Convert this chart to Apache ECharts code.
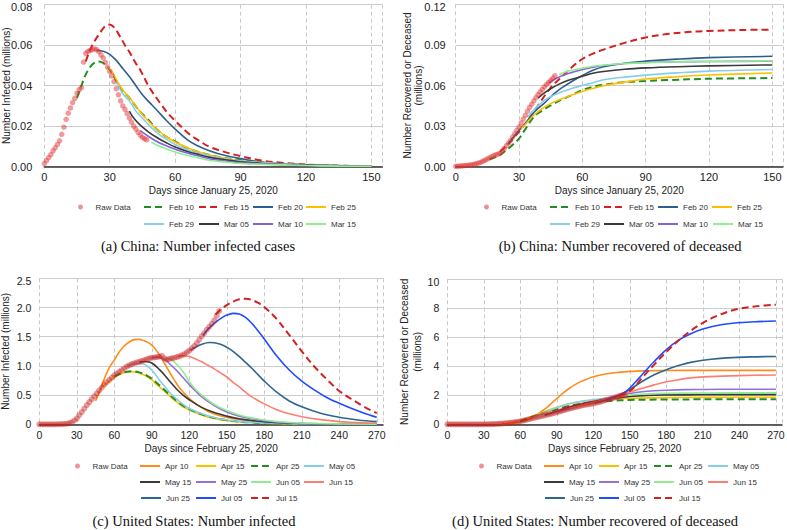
<!DOCTYPE html>
<html><head><meta charset="utf-8">
<script src="https://cdn.jsdelivr.net/npm/echarts@6/dist/echarts.min.js"></script>
<style>html,body{margin:0;padding:0;background:#fff}#c{width:787px;height:530px}</style>
</head><body><div id="c"></div>
<script>
// ---------- (a) China: number infected (millions), raw data daily from day 0 ----------
const cnInfRaw = [0.0015,0.003,0.0045,0.006,0.0078,0.0093,0.011,0.0128,0.016,0.0195,0.0234,0.0264,0.029,0.0317,0.0338,0.0363,0.038,0.039,0.0517,0.056,0.0569,0.0574,0.0578,0.0582,0.0578,0.0568,0.0552,0.0537,0.0515,0.0492,0.047,0.0448,0.042,0.0385,0.0355,0.0325,0.030,0.0283,0.0262,0.024,0.022,0.020,0.0186,0.017,0.0156,0.0145,0.0138,0.0133];
const cnInfFeb10 = [[15,0.034],[17,0.040],[19,0.0455],[21,0.0492],[23,0.0514],[25,0.052],[27,0.0512],[30,0.048],[33,0.0425],[36,0.0375],[39,0.034],[42,0.0298],[45,0.026],[48,0.0228],[52,0.018],[56,0.0148],[60,0.0125],[65,0.0095],[70,0.0075],[80,0.0048],[90,0.0032],[100,0.0021],[110,0.0014],[120,0.0009],[135,0.0005],[150,0.0003]];
const cnInfFeb15 = [[19,0.052],[22,0.060],[26,0.0668],[28,0.0695],[30,0.0702],[32,0.0688],[34,0.0656],[37,0.060],[39,0.0567],[42,0.051],[44,0.0478],[48,0.0395],[53,0.0316],[57,0.026],[60,0.0227],[66,0.0165],[70,0.0135],[76,0.0097],[83,0.0072],[90,0.0052],[100,0.003],[110,0.0018],[120,0.0011],[135,0.0005],[150,0.0002]];
const cnInfFeb20 = [[24,0.0575],[27,0.057],[30,0.0555],[33,0.0525],[36,0.0485],[39,0.0445],[42,0.040],[45,0.0355],[48,0.032],[52,0.0275],[56,0.0228],[60,0.0186],[66,0.013],[70,0.0105],[76,0.0078],[83,0.0055],[90,0.004],[100,0.0022],[110,0.0014],[120,0.0009],[135,0.0004],[150,0.0002]];
const cnInfFeb25 = [[29,0.0495],[31,0.047],[34,0.0412],[37,0.0365],[40,0.0328],[44,0.027],[48,0.0222],[52,0.018],[56,0.0148],[60,0.0122],[66,0.0092],[70,0.0075],[76,0.0057],[83,0.0042],[90,0.0029],[100,0.002],[110,0.0013],[120,0.0009],[135,0.0005],[150,0.0003]];
const cnInfFeb29 = [[33,0.042],[36,0.036],[39,0.0325],[42,0.0275],[45,0.024],[48,0.0205],[52,0.0165],[56,0.0135],[60,0.011],[66,0.0082],[70,0.0068],[76,0.0052],[83,0.0038],[90,0.0028],[100,0.0019],[110,0.0013],[120,0.0009],[135,0.0005],[150,0.0003]];
const cnInfMar05 = [[39,0.0275],[41,0.024],[44,0.0205],[48,0.017],[52,0.0142],[56,0.0118],[60,0.0097],[66,0.0074],[70,0.0062],[76,0.0046],[83,0.0034],[90,0.0024],[100,0.0016],[110,0.0011],[120,0.0008],[135,0.0004],[150,0.0002]];
const cnInfMar10 = [[44,0.0178],[48,0.0148],[52,0.0122],[56,0.0103],[60,0.0086],[66,0.0066],[70,0.0055],[76,0.0038],[83,0.0028],[90,0.002],[100,0.0014],[110,0.001],[120,0.0007],[135,0.0004],[150,0.0002]];
const cnInfMar15 = [[49,0.0122],[52,0.0105],[56,0.0088],[60,0.0073],[66,0.0055],[70,0.0045],[76,0.0031],[83,0.0023],[90,0.0016],[100,0.0012],[110,0.0009],[120,0.0006],[135,0.0003],[150,0.0002]];

// ---------- (b) China: number recovered or deceased (millions) ----------
const cnRecRaw = [0.0003,0.0004,0.0005,0.0006,0.0008,0.0009,0.0011,0.0013,0.0016,0.0019,0.0023,0.0028,0.0034,0.0041,0.0049,0.0057,0.0065,0.0073,0.0081,0.0089,0.0093,0.0098,0.0115,0.0135,0.0155,0.0175,0.0195,0.022,0.0245,0.027,0.0294,0.0323,0.0352,0.038,0.041,0.0438,0.0462,0.0487,0.051,0.0533,0.0552,0.0571,0.059,0.0607,0.0623,0.0638,0.0655,0.0672];
const cnRecFeb10 = [[16,0.0055],[20,0.0078],[23,0.011],[26,0.0148],[30,0.0208],[33,0.0278],[37,0.0368],[41,0.0415],[45,0.0453],[50,0.0495],[55,0.053],[60,0.0565],[65,0.059],[70,0.0605],[80,0.0625],[90,0.0634],[100,0.064],[120,0.065],[150,0.0655]];
const cnRecFeb15 = [[21,0.011],[25,0.017],[30,0.026],[35,0.036],[40,0.0475],[45,0.0585],[50,0.066],[55,0.0735],[60,0.0796],[65,0.0835],[70,0.0865],[80,0.0915],[90,0.0955],[100,0.098],[110,0.0995],[120,0.1003],[135,0.101],[150,0.1013]];
const cnRecFeb20 = [[25,0.017],[29,0.025],[33,0.032],[37,0.040],[42,0.047],[46,0.053],[50,0.058],[55,0.063],[60,0.0674],[65,0.0712],[70,0.0738],[80,0.0765],[90,0.078],[105,0.0795],[120,0.0806],[150,0.0816]];
const cnRecFeb25 = [[31,0.028],[34,0.033],[37,0.038],[41,0.043],[45,0.0466],[50,0.050],[55,0.053],[60,0.0556],[65,0.0578],[70,0.0598],[80,0.0625],[90,0.0648],[105,0.0665],[120,0.0678],[150,0.0692]];
const cnRecFeb29 = [[34,0.0367],[38,0.0435],[42,0.049],[46,0.0525],[50,0.0552],[55,0.0578],[60,0.060],[65,0.062],[70,0.0642],[80,0.0662],[90,0.0677],[105,0.0693],[120,0.0706],[150,0.0718]];
const cnRecMar05 = [[39,0.0507],[42,0.0545],[45,0.0576],[49,0.061],[53,0.0637],[60,0.0668],[65,0.069],[70,0.0703],[80,0.072],[90,0.073],[105,0.0739],[120,0.0745],[150,0.0752]];
const cnRecMar10 = [[44,0.0617],[48,0.0655],[53,0.0686],[60,0.0718],[65,0.0735],[70,0.0748],[80,0.0762],[90,0.077],[105,0.0775],[120,0.0777],[150,0.078]];
const cnRecMar15 = [[49,0.068],[53,0.0705],[60,0.0728],[65,0.0742],[70,0.075],[80,0.0762],[90,0.0768],[105,0.0775],[120,0.0778],[150,0.0782]];

// ---------- (c) United States: number infected (millions), raw every 2 days from day 0 ----------
const usInfRaw = [0,0,0,0,0,0,0,0.001,0.002,0.003,0.005,0.01,0.02,0.035,0.065,0.10,0.155,0.21,0.27,0.33,0.38,0.43,0.48,0.53,0.58,0.63,0.68,0.72,0.76,0.80,0.84,0.87,0.90,0.93,0.96,0.99,1.01,1.03,1.045,1.06,1.07,1.085,1.10,1.115,1.13,1.14,1.145,1.15,1.16,1.17,1.13,1.11,1.12,1.13,1.14,1.15,1.165,1.18,1.20,1.23,1.26,1.30,1.34,1.39,1.45,1.51,1.56,1.62,1.67,1.72,1.78,1.86,1.94];
const usInfApr10 = [[45,0.40],[48,0.55],[52,0.78],[56,0.97],[60,1.10],[64,1.24],[68,1.34],[72,1.41],[76,1.45],[80,1.455],[84,1.43],[88,1.39],[92,1.31],[96,1.19],[100,1.05],[104,0.90],[108,0.76],[112,0.63],[116,0.53],[120,0.44],[128,0.31],[136,0.21],[144,0.15],[150,0.12],[160,0.08],[170,0.055],[180,0.04],[195,0.022],[210,0.012],[240,0.004],[270,0.001]];
const usInfApr15 = [[50,0.63],[55,0.72],[60,0.80],[65,0.86],[70,0.895],[74,0.90],[78,0.89],[82,0.86],[86,0.82],[90,0.76],[95,0.66],[100,0.57],[105,0.47],[110,0.38],[115,0.30],[120,0.245],[130,0.16],[140,0.10],[150,0.062],[160,0.04],[170,0.028],[180,0.018],[210,0.006],[240,0.002],[270,0.001]];
const usInfApr25 = [[60,0.82],[65,0.87],[70,0.90],[74,0.91],[78,0.90],[82,0.875],[86,0.835],[90,0.78],[95,0.69],[100,0.59],[105,0.49],[110,0.40],[115,0.32],[120,0.26],[130,0.17],[140,0.11],[150,0.07],[160,0.045],[170,0.03],[180,0.02],[210,0.007],[240,0.002],[270,0.001]];
const usInfMay05 = [[70,0.99],[75,1.03],[80,1.04],[84,1.03],[88,0.97],[92,0.88],[96,0.76],[100,0.66],[105,0.53],[110,0.43],[115,0.34],[120,0.27],[130,0.18],[140,0.115],[150,0.075],[160,0.05],[170,0.033],[180,0.022],[210,0.007],[240,0.002],[270,0.001]];
const usInfMay15 = [[80,1.06],[84,1.075],[88,1.065],[92,1.02],[96,0.94],[100,0.85],[105,0.72],[110,0.60],[115,0.50],[120,0.42],[130,0.29],[140,0.20],[150,0.14],[160,0.095],[170,0.065],[180,0.045],[195,0.025],[210,0.014],[240,0.004],[270,0.001]];
const usInfMay25 = [[90,1.14],[94,1.15],[98,1.13],[102,1.08],[106,1.00],[110,0.92],[115,0.80],[120,0.68],[125,0.57],[130,0.47],[140,0.32],[150,0.21],[160,0.14],[170,0.095],[180,0.06],[195,0.03],[210,0.016],[240,0.005],[270,0.001]];
const usInfJun05 = [[101,1.12],[104,1.12],[108,1.07],[112,0.98],[116,0.87],[120,0.73],[125,0.60],[130,0.50],[140,0.34],[150,0.235],[160,0.16],[170,0.11],[180,0.075],[195,0.04],[210,0.022],[240,0.007],[270,0.002]];
const usInfJun15 = [[111,1.17],[115,1.175],[120,1.16],[125,1.12],[130,1.07],[135,1.01],[140,0.95],[145,0.88],[150,0.81],[155,0.72],[160,0.64],[165,0.55],[170,0.47],[180,0.35],[190,0.25],[200,0.18],[210,0.13],[225,0.08],[240,0.046],[255,0.028],[270,0.017]];
const usInfJun25 = [[121,1.27],[125,1.32],[130,1.37],[136,1.40],[140,1.395],[145,1.37],[150,1.32],[155,1.25],[160,1.16],[165,1.06],[170,0.96],[175,0.85],[180,0.74],[190,0.55],[200,0.40],[210,0.30],[225,0.19],[240,0.12],[255,0.075],[270,0.045]];
const usInfJul05 = [[131,1.52],[135,1.63],[140,1.73],[145,1.81],[150,1.87],[155,1.90],[160,1.89],[165,1.83],[170,1.73],[175,1.60],[180,1.46],[190,1.17],[200,0.93],[210,0.74],[220,0.59],[230,0.46],[240,0.36],[250,0.27],[260,0.19],[270,0.12]];
const usInfJul15 = [[141,1.88],[145,1.96],[150,2.04],[155,2.10],[160,2.14],[165,2.15],[170,2.13],[175,2.08],[180,2.01],[190,1.80],[200,1.53],[210,1.25],[220,0.99],[230,0.77],[240,0.57],[250,0.43],[260,0.30],[270,0.19]];

// ---------- (d) United States: number recovered or deceased (millions), raw every 2 days ----------
const usRecRaw = [0,0,0,0,0,0,0,0,0,0,0,0,0,0,0,0,0.005,0.008,0.012,0.018,0.025,0.035,0.045,0.06,0.075,0.09,0.11,0.13,0.155,0.18,0.21,0.25,0.29,0.33,0.37,0.42,0.46,0.50,0.54,0.58,0.62,0.66,0.70,0.74,0.78,0.83,0.88,0.93,0.98,1.03,1.08,1.12,1.16,1.20,1.24,1.28,1.32,1.35,1.38,1.41,1.44,1.48,1.52,1.56,1.61,1.66,1.71,1.76,1.81,1.86,1.91,1.96,2.01,2.06];
const usRecApr10 = [[45,0.03],[50,0.06],[55,0.11],[60,0.19],[65,0.30],[70,0.47],[75,0.74],[80,1.04],[85,1.40],[90,1.78],[95,2.15],[100,2.47],[105,2.74],[110,2.96],[115,3.13],[120,3.28],[130,3.47],[140,3.58],[150,3.65],[165,3.69],[180,3.71],[210,3.72],[270,3.72]];
const usRecApr15 = [[50,0.09],[55,0.15],[60,0.25],[65,0.38],[70,0.55],[75,0.72],[80,0.88],[85,1.03],[90,1.17],[95,1.30],[100,1.42],[110,1.57],[120,1.66],[135,1.75],[150,1.80],[180,1.84],[210,1.86],[270,1.87]];
const usRecApr25 = [[60,0.21],[65,0.35],[70,0.50],[75,0.65],[80,0.80],[85,0.93],[90,1.04],[95,1.16],[100,1.26],[110,1.42],[120,1.53],[135,1.63],[150,1.68],[165,1.70],[180,1.71],[210,1.72],[270,1.72]];
const usRecMay05 = [[70,0.46],[75,0.63],[80,0.80],[85,0.98],[90,1.15],[95,1.30],[100,1.42],[110,1.58],[120,1.70],[135,1.85],[150,1.95],[165,2.02],[180,2.06],[210,2.10],[240,2.11],[270,2.12]];
const usRecMay15 = [[80,0.62],[85,0.76],[90,0.90],[95,1.04],[100,1.18],[110,1.40],[120,1.57],[135,1.78],[150,1.92],[165,1.99],[180,2.02],[210,2.04],[240,2.05],[270,2.05]];
const usRecMay25 = [[90,0.84],[95,0.96],[100,1.08],[110,1.30],[120,1.50],[130,1.72],[140,1.94],[150,2.12],[160,2.24],[170,2.31],[180,2.35],[195,2.39],[210,2.40],[240,2.42],[270,2.42]];
const usRecJun05 = [[101,1.10],[110,1.30],[120,1.50],[130,1.70],[140,1.88],[150,2.02],[160,2.08],[170,2.12],[180,2.14],[210,2.16],[270,2.17]];
const usRecJun15 = [[111,1.32],[120,1.47],[130,1.66],[140,1.97],[150,2.23],[160,2.48],[170,2.72],[180,2.93],[190,3.08],[200,3.20],[215,3.29],[240,3.36],[270,3.40]];
const usRecJun25 = [[121,1.46],[130,1.66],[140,1.97],[150,2.40],[160,2.95],[170,3.42],[180,3.77],[190,4.05],[200,4.27],[215,4.47],[230,4.58],[250,4.65],[270,4.68]];
const usRecJul05 = [[131,1.68],[140,1.95],[145,2.15],[150,2.50],[155,2.95],[160,3.42],[170,4.33],[180,5.15],[190,5.80],[200,6.25],[210,6.57],[225,6.87],[240,7.01],[255,7.08],[270,7.12]];
const usRecJul15 = [[141,1.95],[150,2.30],[155,2.70],[160,3.20],[170,4.12],[180,5.00],[190,5.78],[200,6.45],[210,7.00],[220,7.42],[230,7.75],[240,7.97],[255,8.15],[270,8.25]];

// ---------- labels ----------
const cnNames = ['Feb 10','Feb 15','Feb 20','Feb 25','Feb 29','Mar 05','Mar 10','Mar 15'];
const usNames = ['Apr 10','Apr 15','Apr 25','May 05','May 15','May 25','Jun 05','Jun 15','Jun 25','Jul 05','Jul 15'];
const captions = ['(a) China: Number infected cases','(b) China: Number recovered of deceased','(c) United States: Number infected','(d) United States: Number recovered of deceased'];
const xTitles = ['Days since January 25, 2020','Days since January 25, 2020','Days since February 25, 2020','Days since February 25, 2020'];
const yTitles = ['Number Infected (millions)','Number Recovered or Deceased\n(millions)','Number Infected (millions)','Number Recovered or Deceased\n(millions)'];

// ---------- styling ----------
const SANS = '"Liberation Sans", Arial, sans-serif';
const SERIF = '"Liberation Serif", "Times New Roman", serif';
const GREEN = '#1f8f1f', RED = '#d42020';
const cnColors = [GREEN, RED, '#2c5f8e', '#ffbf00', '#87ceeb', '#3a3a3a', '#8462d9', '#8ef08e'];
const cnDash = [true, true, false, false, false, false, false, false];
const usColors = ['#ff8c1a', '#ffc000', GREEN, '#87ceeb', '#3a3a3a', '#9370db', '#90ee90', '#fa8072', '#2f6690', '#1f4cff', RED];
const usDash = [false, false, true, false, false, false, false, false, false, false, true];

const cnInfSeries = [cnInfFeb10, cnInfFeb15, cnInfFeb20, cnInfFeb25, cnInfFeb29, cnInfMar05, cnInfMar10, cnInfMar15];
const cnRecSeries = [cnRecFeb10, cnRecFeb15, cnRecFeb20, cnRecFeb25, cnRecFeb29, cnRecMar05, cnRecMar10, cnRecMar15];
const usInfSeries = [usInfApr10, usInfApr15, usInfApr25, usInfMay05, usInfMay15, usInfMay25, usInfJun05, usInfJun15, usInfJun25, usInfJul05, usInfJul15];
const usRecSeries = [usRecApr10, usRecApr15, usRecApr25, usRecMay05, usRecMay15, usRecMay25, usRecJun05, usRecJun15, usRecJun25, usRecJul05, usRecJul15];

function lineS(name, data, idx, color, dashed) {
  return {type: 'line', name, xAxisIndex: idx, yAxisIndex: idx, data, smooth: 0.35, symbol: 'none',
    lineStyle: {color, width: dashed ? 2 : 1.6, type: dashed ? [7, 4] : 'solid'}, itemStyle: {color}, z: 2, silent: true};
}
function rawS(values, idx, step, size, color) {
  return {type: 'scatter', name: 'Raw Data', xAxisIndex: idx, yAxisIndex: idx,
    data: values.map((v, i) => [i * step, v]), symbolSize: size, itemStyle: {color}, z: 3, silent: true};
}

const grids = [
  {left: 44.3, top: 4.7, width: 338, height: 162},
  {left: 455.7, top: 4.3, width: 327.2, height: 162.4},
  {left: 39.3, top: 278.3, width: 343.7, height: 146},
  {left: 447.3, top: 279.3, width: 334.7, height: 145}
].map(g => Object.assign(g, {containLabel: false, outerBoundsMode: 'none'}));
const xMax = [155, 155, 275, 275];
const yMax = [0.08, 0.12, 2.5, 10];
const yInt = [0.02, 0.03, 0.5, 2];
const yFmt = [v => v.toFixed(2), v => v.toFixed(2), v => (v === 0 ? '0' : v.toFixed(1)), v => String(Math.round(v))];
const yGap = [32, 32, 28, 23];
const yNameLH = [12, 11, 12, 13];
const yLabMargin = [12, 10, 8, 8];
const tickFont = [11, 11, 10.5, 10.5];

const xAxes = grids.map((g, i) => ({
  gridIndex: i, type: 'value', min: 0, max: xMax[i], interval: 30,
  name: xTitles[i], nameLocation: 'middle', nameGap: 19, nameMoveOverlap: false,
  nameTextStyle: {fontSize: 10, color: '#222', fontFamily: SANS},
  axisLine: {show: true, onZero: false, lineStyle: {color: '#333', width: 1.6}},
  axisTick: {show: false},
  axisLabel: {fontSize: tickFont[i], color: '#222', fontFamily: SANS, margin: 5,
    formatter: v => (v % 30 === 0 ? String(v) : '')},
  splitLine: {show: true, lineStyle: {color: '#c8c8c8', type: [4, 3], width: 1}}
}));
const yAxes = grids.map((g, i) => ({
  gridIndex: i, type: 'value', min: 0, max: yMax[i], interval: yInt[i],
  name: yTitles[i], nameLocation: 'middle', nameGap: yGap[i], nameMoveOverlap: false,
  nameTextStyle: {fontSize: 10, color: '#222', fontFamily: SANS, lineHeight: yNameLH[i]},
  axisLine: {show: false}, axisTick: {show: false},
  axisLabel: {fontSize: tickFont[i], color: '#222', fontFamily: SANS, margin: yLabMargin[i],
    formatter: v => (Math.abs(v - yMax[i]) < 1e-9 ? '{top|' + yFmt[i](v) + '}' : yFmt[i](v)),
    rich: {top: {fontSize: tickFont[i], color: '#222', fontFamily: SANS, padding: [5, 0, 0, 0]}}},
  splitLine: {show: true, lineStyle: {color: '#cccccc', width: 1}}
}));

const series = [];
cnInfSeries.forEach((d, k) => series.push(lineS(cnNames[k], d, 0, cnColors[k], cnDash[k])));
series.push(rawS(cnInfRaw, 0, 1, 5.5, 'rgba(222,45,45,0.6)'));
cnRecSeries.forEach((d, k) => series.push(lineS(cnNames[k], d, 1, cnColors[k], cnDash[k])));
series.push(rawS(cnRecRaw, 1, 1, 5.5, 'rgba(222,45,45,0.6)'));
usInfSeries.forEach((d, k) => series.push(lineS(usNames[k], d, 2, usColors[k], usDash[k])));
series.push(rawS(usInfRaw, 2, 2, 6, 'rgba(200,30,30,0.55)'));
usRecSeries.forEach((d, k) => series.push(lineS(usNames[k], d, 3, usColors[k], usDash[k])));
series.push(rawS(usRecRaw, 3, 2, 6, 'rgba(200,30,30,0.55)'));

// legend layout: [name, left, rowCenterY]
function leg(name, left, cy) {
  const isRaw = name === 'Raw Data';
  const o = {data: [name], left, top: cy - 5, padding: 0, itemGap: 0, itemWidth: 20,
    itemHeight: isRaw ? 5 : 6, selectedMode: false,
    textStyle: {fontSize: 8, color: '#333', fontFamily: SANS}};
  if (isRaw) { o.icon = 'circle'; o.itemStyle = {color: 'rgba(232,120,120,1)'}; }
  else { o.itemStyle = {opacity: 0}; }
  return o;
}
const legends = [
  leg('Raw Data', 78, 208), leg('Feb 10', 143, 208), leg('Feb 15', 198, 208), leg('Feb 20', 252, 208), leg('Feb 25', 305, 208),
  leg('Feb 29', 143, 225), leg('Mar 05', 198, 225), leg('Mar 10', 252, 225), leg('Mar 15', 305, 225),
  leg('Raw Data', 484, 208), leg('Feb 10', 549, 208), leg('Feb 15', 603, 208), leg('Feb 20', 657, 208), leg('Feb 25', 711, 208),
  leg('Feb 29', 549, 225), leg('Mar 05', 603, 225), leg('Mar 10', 657, 225), leg('Mar 15', 712, 225),
  leg('Raw Data', 75, 467), leg('Apr 10', 139, 467), leg('Apr 15', 195, 467), leg('Apr 25', 250, 467), leg('May 05', 303, 467),
  leg('May 15', 139, 483), leg('May 25', 195, 483), leg('Jun 05', 250, 483), leg('Jun 15', 303, 483),
  leg('Jun 25', 140, 499), leg('Jul 05', 195, 499), leg('Jul 15', 250, 499),
  leg('Raw Data', 479, 467), leg('Apr 10', 543, 467), leg('Apr 15', 598, 467), leg('Apr 25', 653, 467), leg('May 05', 707, 467),
  leg('May 15', 543, 483), leg('May 25', 598, 483), leg('Jun 05', 653, 483), leg('Jun 15', 707, 483),
  leg('Jun 25', 544, 499), leg('Jul 05', 598, 499), leg('Jul 15', 653, 499)
];

const capPos = [[198, 246], [620, 246], [194, 521], [595, 521]];
const graphics = captions.map((t, i) => ({
  type: 'text', x: capPos[i][0], y: capPos[i][1], silent: true,
  style: {text: t, fill: '#111', font: '14.5px ' + SERIF, textAlign: 'center', textVerticalAlign: 'middle'}
}));

const chart = echarts.init(document.getElementById('c'), null, {renderer: 'svg'});
chart.setOption({
  animation: false,
  backgroundColor: '#ffffff',
  grid: grids,
  xAxis: xAxes,
  yAxis: yAxes,
  legend: legends,
  graphic: graphics,
  series
});
</script></body></html>
